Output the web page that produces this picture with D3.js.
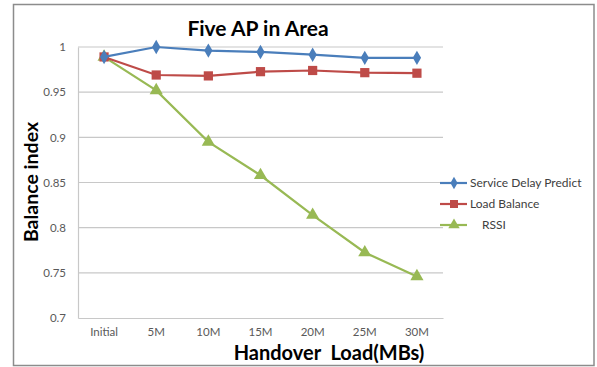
<!DOCTYPE html>
<html><head><meta charset="utf-8">
<script src="https://cdn.jsdelivr.net/npm/d3@7"></script>
<style>body{margin:0;background:#fff}svg{display:block}</style>
</head><body>
<script>
const categories = ["Initial","5M","10M","15M","20M","25M","30M"];
const serviceDelay = [0.989, 1.000, 0.996, 0.9945, 0.9915, 0.988, 0.988];
const loadBalance = [0.989, 0.969, 0.968, 0.9727, 0.974, 0.9716, 0.971];
const rssi = [0.989, 0.952, 0.895, 0.858, 0.814, 0.7725, 0.746];
const yTicks = [0.7, 0.75, 0.8, 0.85, 0.9, 0.95, 1];
const seriesNames = ["Service Delay Predict", "Load Balance", "RSSI"];

(function () {
const F = "Lato, 'Open Sans', sans-serif";
const W = 597, H = 367;
const svg = d3.select("body").append("svg").attr("width", W).attr("height", H);
svg.append("rect").attr("x", 13.5).attr("y", 4.5).attr("width", 580.5).attr("height", 361)
  .attr("fill", "#fff").attr("stroke", "#8c8c8c").attr("stroke-width", 1.5);

const pl = 78, pr = 443, pt = 47, pb = 318;
const x = d3.scaleBand().domain(categories).range([pl, pr]);
const y = d3.scaleLinear().domain([0.7, 1]).range([pb, pt]);

svg.append("g").selectAll("line").data(yTicks.filter(d => d > 0.7)).join("line")
  .attr("x1", pl).attr("x2", pr).attr("y1", d => y(d)).attr("y2", d => y(d))
  .attr("stroke", "#c8c8c8").attr("stroke-width", 1.2);

const yAxis = svg.append("g").attr("transform", `translate(${pl},0)`)
  .call(d3.axisLeft(y).tickValues(yTicks).tickSize(0).tickPadding(12).tickFormat(d => String(+d.toFixed(2))));
yAxis.select(".domain").attr("stroke", "#c8c8c8").attr("stroke-width", 1.2);
yAxis.selectAll("text").attr("font-family", F).attr("font-size", 11.5).attr("fill", "#595959");

const xAxis = svg.append("g").attr("transform", `translate(0,${pb})`)
  .call(d3.axisBottom(x).tickSize(0).tickPadding(10));
xAxis.select(".domain").attr("stroke", "#c8c8c8").attr("stroke-width", 1.2);
xAxis.selectAll("text").attr("font-family", F).attr("font-size", 11.5).attr("fill", "#595959");

const cx = d => x(d) + x.bandwidth() / 2;
const series = [
  {name: seriesNames[0], values: serviceDelay, color: "#4a7ebb", sym: d3.symbolDiamond, size: 60},
  {name: seriesNames[1], values: loadBalance, color: "#be4b48", sym: d3.symbolSquare, size: 85},
  {name: seriesNames[2], values: rssi, color: "#98b954", sym: d3.symbolTriangle, size: 75}
];
const line = d3.line().x((d, i) => cx(categories[i])).y(d => y(d));
[...series].reverse().forEach(s => {
  const g = svg.append("g");
  g.append("path").attr("d", line(s.values)).attr("fill", "none").attr("stroke", s.color).attr("stroke-width", 2.2);
  g.selectAll("path.m").data(s.values).join("path").attr("class", "m")
    .attr("transform", (d, i) => `translate(${cx(categories[i])},${y(d)})`)
    .attr("d", d3.symbol().type(s.sym).size(s.size)).attr("fill", s.color);
});

const legY = [183, 204, 225];
series.forEach((s, i) => {
  const g = svg.append("g").attr("transform", `translate(0,${legY[i]})`);
  g.append("line").attr("x1", 440).attr("x2", 467).attr("stroke", s.color).attr("stroke-width", 2.2);
  g.append("path").attr("transform", "translate(454,0)")
    .attr("d", d3.symbol().type(s.sym).size(s.size * 0.75)).attr("fill", s.color);
  g.append("text").attr("x", i === 2 ? 482 : 470).attr("y", 0).attr("dy", "0.35em")
    .attr("font-family", F).attr("font-size", 12).attr("fill", "#404040")
    .text(s.name);
});

svg.append("text").attr("x", 258).attr("y", 36).attr("text-anchor", "middle")
  .attr("font-family", F).attr("font-weight", "bold").attr("font-size", 21)
  .attr("fill", "#000").text("Five AP in Area");

svg.append("text").attr("transform", "translate(38,182) rotate(-90)").attr("text-anchor", "middle")
  .attr("font-family", F).attr("font-weight", "bold").attr("font-size", 19.5)
  .attr("fill", "#000").text("Balance index");

svg.append("text").attr("x", 329).attr("y", 360).attr("text-anchor", "middle")
  .attr("font-family", F).attr("font-weight", "bold").attr("font-size", 20)
  .attr("fill", "#000").style("white-space", "pre").text("Handover  Load(MBs)");
})();
</script>
</body></html>
